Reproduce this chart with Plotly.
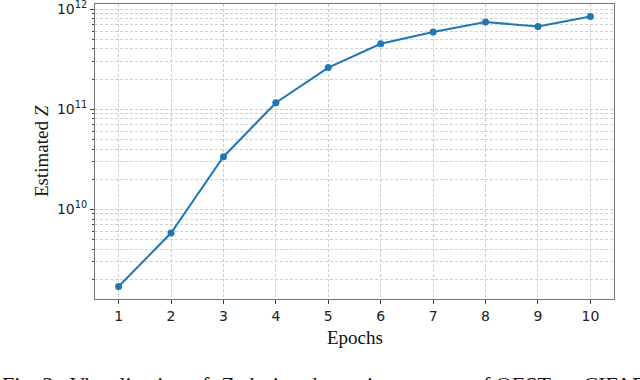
import plotly.graph_objects as go

# Geschätzte Werte aus dem Bild
epochs = [1, 2, 3, 4, 5, 6, 7, 8, 9, 10]
estimated_z = [1.7e9, 5.8e9, 3.35e10, 1.16e11, 2.6e11, 4.5e11, 5.9e11, 7.4e11, 6.7e11, 8.4e11]
y_ticks = [1e10, 1e11, 1e12]
y_ticktext = ['10<sup>10</sup>', '10<sup>11</sup>', '10<sup>12</sup>']

blue = '#1f77b4'
serif = 'Liberation Serif, Times New Roman, serif'
sans = 'DejaVu Sans, sans-serif'
dash = '3px,2px'

trace = go.Scatter(
    x=epochs,
    y=estimated_z,
    mode='lines+markers',
    line=dict(color=blue, width=2),
    marker=dict(color=blue, size=7),
    cliponaxis=False,
)

layout = go.Layout(
    width=640, height=380,
    margin=dict(l=95, r=26, t=4, b=81, autoexpand=False),
    paper_bgcolor='white',
    plot_bgcolor='white',
    showlegend=False,
    font=dict(family=sans, size=14, color='#222'),
    xaxis=dict(
        range=[0.55, 10.45],
        tickvals=epochs,
        automargin=False,
        showgrid=True, gridcolor='#cccccc', gridwidth=0.8, griddash=dash,
        ticks='outside', ticklen=4, tickcolor='#444',
        showline=True, linecolor='#777', linewidth=1, mirror=True,
        zeroline=False,
        tickfont=dict(family=sans, size=14, color='#222'),
    ),
    yaxis=dict(
        type='log',
        range=[9.105, 12.05],
        tickvals=y_ticks,
        ticktext=y_ticktext,
        automargin=False,
        ticklabeloverflow='allow',
        showgrid=True, gridcolor='#cccccc', gridwidth=0.8, griddash=dash,
        ticks='outside', ticklen=4, tickcolor='#444',
        minor=dict(dtick='D1', showgrid=True, gridcolor='#d2d2d2',
                   gridwidth=0.8, griddash=dash, ticks='outside',
                   ticklen=2, tickcolor='#444'),
        showline=True, linecolor='#777', linewidth=1, mirror=True,
        zeroline=False,
        tickfont=dict(family=sans, size=14, color='#222'),
    ),
    annotations=[
        dict(text='Epochs', xref='paper', yref='paper', x=0.5, y=-0.13,
             xanchor='center', yanchor='middle', showarrow=False,
             font=dict(family=serif, size=19, color='#111')),
        dict(text='Estimated <i>Z</i>', xref='paper', yref='paper', x=-0.103, y=0.5,
             xanchor='center', yanchor='middle', showarrow=False, textangle=-90,
             font=dict(family=serif, size=19, color='#111')),
        dict(text='Fig. 3.  Visualization of  <i>Z</i>  during the tuning process of QEST on CIFAR',
             xref='paper', yref='paper', x=-0.183, y=-0.239,
             xanchor='left', yanchor='top', showarrow=False,
             font=dict(family=serif, size=22, color='#111')),
    ],
)

fig = go.Figure(data=[trace], layout=layout)
# Seitenrand des <body> entfernen, damit die Grafik bei (0,0) beginnt
fig.write_html('out.html', config={'displayModeBar': False},
               post_script="document.body.style.margin='0';")
